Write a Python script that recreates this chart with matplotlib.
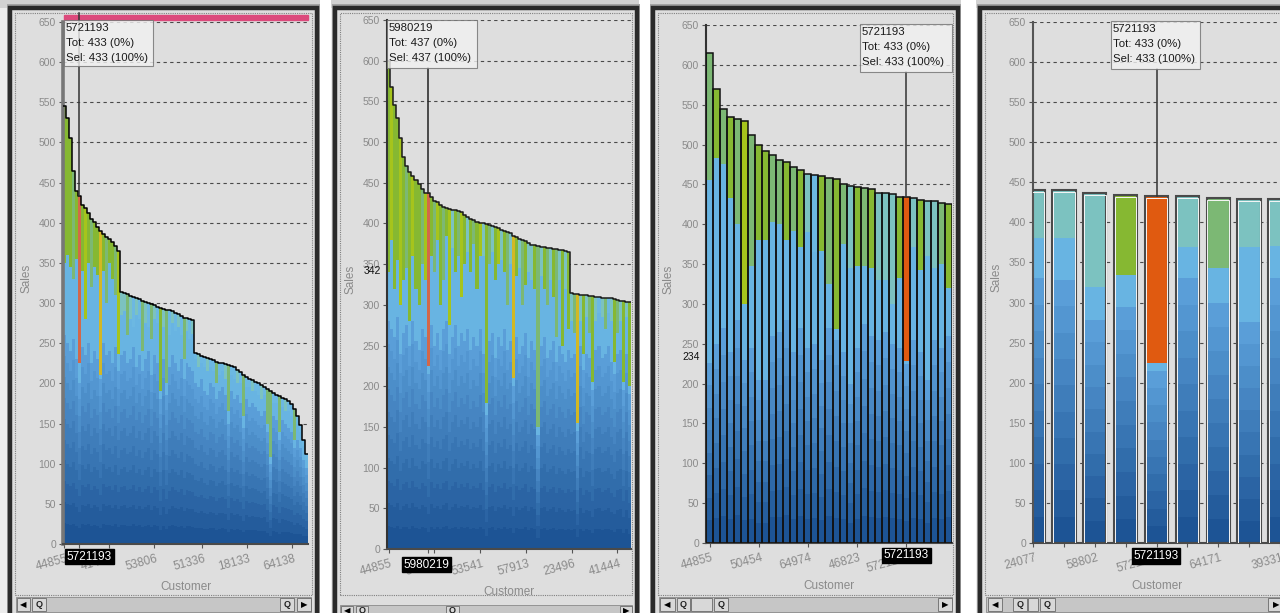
import numpy as np
import matplotlib.pyplot as plt
import matplotlib.transforms as mtrans
import matplotlib.colors as mcolors
from matplotlib.patches import Rectangle

plt.rcParams['font.family'] = ['Liberation Sans', 'DejaVu Sans']

# ---------------- data ----------------
# panel 1 : all customers, sorted by sales
p1_totals = [545, 530, 505, 465, 440, 433, 422, 418, 412, 405,
             401, 395, 390, 386, 382, 380, 376, 371, 365, 314,
             313, 311, 309, 307, 306, 305, 303, 301, 300, 299,
             297, 295, 294, 293, 292, 291, 290, 288, 286, 284,
             282, 281, 280, 279, 238, 236, 234, 233, 231, 230,
             229, 227, 226, 225, 224, 223, 222, 220, 217, 214,
             211, 208, 206, 204, 202, 200, 198, 195, 193, 191,
             188, 186, 184, 182, 180, 178, 174, 168, 160, 148,
             130, 112]
p1_tips = [350, 360, 345, 330, 355, 225, 340, 280, 350, 320,
           345, 335, 210, 340, 300, 350, 330, 310, 237,
           285, 290, 260, 280, 270, 285, 280, 240, 275, 270,
           255, 280, 275, 190, 270, 200, 260, 275, 265, 270,
           260, 230, 265, 255, 262,
           230, 220, 225, 220, 215, 220, 215, 200, 210, 215,
           205, 165, 210, 205, 200, 200, 160, 195, 195, 190,
           190, 185, 180, 185, 150, 108, 175, 175, 140, 170,
           165, 165, 160, 130, 150, 140, 122, 105]
p1_lights = [260, 250, 240, 255, 230, 200, 245, 235, 250, 225,
             240, 230, 205, 250, 235, 240, 225, 245, 215,
             235, 240, 225, 230, 245, 220, 235, 215, 230, 240,
             210, 235, 225, 180, 230, 185, 220, 235, 225, 215,
             230, 205, 225, 220, 215,
             200, 195, 205, 190, 185, 200, 195, 180, 190, 195,
             185, 150, 190, 180, 185, 175, 145, 180, 170, 175,
             170, 165, 160, 165, 140, 100, 160, 155, 130, 155,
             150, 145, 140, 120, 130, 120, 105, 95]
p1_codes = "gggmgrgygmggYgmggmy" + "ttmtbtbmtbmtbgtmbtbtbmtbt" + "btbbtbbmbbtmbbtbmbbtbbtbmmbbmbtbbmbbbb"
p1_selected = 5
p1_tick_idx = [0, 15, 30, 46, 61, 76]
p1_tick_labels = ['44855', '41419', '53806', '51336', '18133', '64138']

# panel 2 : another selection
p2_totals = [600, 568, 545, 530, 505, 482, 470, 463, 458, 453,
             448, 442, 438, 437, 432, 428, 426, 423, 420, 419,
             418, 417, 416, 415, 414, 411, 408, 406, 404, 402,
             401, 400, 399, 398, 397, 396, 394, 392, 391, 390,
             388, 385, 383, 381, 380, 378, 376, 374, 373, 372,
             371, 371, 370, 370, 369, 369, 368, 367, 366, 365,
             314, 313, 313, 312, 312, 312, 311, 311, 310, 310,
             309, 309, 308, 308, 307, 306, 305, 305, 304, 304]
p2_tips = [340, 380, 320, 355, 300, 330, 345, 280, 360, 320,
           300, 350, 330, 225, 360, 340, 380, 300, 330, 385,
           275, 370, 340, 360, 310, 350, 365, 340, 375, 320,
           360, 360, 180, 350, 365, 330, 350, 355, 340, 300,
           350, 210, 335, 345, 300, 325, 340, 330, 320, 150,
           335, 320, 300, 330, 310, 260, 330, 250, 320, 270,
           280, 265, 155, 280, 240, 285, 265, 205, 280, 290,
           285, 270, 290, 280, 230, 265, 280, 205, 285, 200]
p2_lights = [280, 270, 260, 285, 240, 265, 275, 250, 280, 255,
             245, 270, 260, 215, 275, 250, 265, 245, 270, 280,
             240, 260, 275, 250, 265, 255, 270, 245, 260, 250,
             270, 240, 165, 255, 265, 235, 260, 250, 270, 245,
             255, 200, 260, 240, 250, 265, 235, 255, 245, 140,
             250, 260, 235, 245, 255, 230, 250, 240, 230, 245,
             235, 240, 145, 250, 220, 240, 235, 195, 245, 250,
             235, 240, 250, 230, 215, 240, 245, 195, 240, 190]
p2_codes = "gyggygmgyggmyrgmygmg" + "ytgmygtgmgytgmtgytgm" + "tYgtmgttgmtgmtgmtgtg" + "tmYtgtmgtbtmbtgmtgtg"
p2_selected = 13
p2_tick_idx = [0, 15, 30, 45, 60, 75]
p2_tick_labels = ['44855', '58156', '53541', '57913', '23496', '41444']

# panel 3 : zoomed in
p3_totals = [615, 570, 545, 535, 532, 530, 512, 500, 492, 487,
             481, 478, 472, 468, 463, 462, 460, 458, 457, 450,
             448, 447, 446, 444, 439, 439, 438, 434, 434, 433,
             431, 429, 429, 427, 425]
p3_tips = [455, 483, 475, 433, 400, 300, 348, 380, 380, 403,
           400, 380, 392, 372, 390, 365, 366, 325, 268, 375,
           345, 347, 348, 345, 330, 330, 300, 333, 228, 372,
           343, 360, 345, 350, 320]
p3_lights = [226, 250, 270, 240, 280, 230, 245, 205, 205, 260,
             265, 280, 240, 270, 245, 250, 230, 270, 255, 240,
             200, 245, 275, 260, 255, 265, 250, 245, 225, 255,
             240, 205, 255, 245, 260]
p3_codes = "mgmgmymggmmgmgtbgmgmtgmgtttgotgttmg"
p3_selected = 28
p3_tick_idx = [0, 7, 14, 21, 28]
p3_tick_labels = ['44855', '50454', '64974', '46823', '5721193']

# panel 4 : zoomed in further
p4_totals = [440, 440, 437, 434, 433, 433, 430, 429, 429]
p4_tips = [380, 380, 320, 334, 225, 369, 343, 369, 370]
p4_lights = [330, 328, 278, 295, 215, 330, 300, 276, 330]
p4_codes = "tttgotmtt"
p4_selected = 4
p4_tick_idx = [0, 2, 4, 6, 8]
p4_tick_labels = ['24077', '58802', '5721193', '64171', '39331']

TIP = {'g': '#86b832', 'y': '#a6c41c', 'm': '#7cb874', 't': '#7cc2c0',
       'b': '#6cb8e2', 'r': '#d2684a', 'o': '#e05a10', 'Y': '#d2b824'}
LIGHT = '#68b4e2'
GRAY = '#8a8a8a'

W, H = 1280, 613
fig = plt.figure(figsize=(W / 100, H / 100), dpi=100, facecolor='#ececec')


def frect(x0, y0, x1, y1, **kw):
    r = Rectangle((x0 / W, 1 - y1 / H), (x1 - x0) / W, (y1 - y0) / H,
                  transform=fig.transFigure, **kw)
    fig.add_artist(r)
    return r


def ftext(x, y, s, **kw):
    return fig.text(x / W, 1 - y / H, s, **kw)


# window chrome
frect(0, 0, W, 8, fc='#d2d2d2', ec='none', zorder=-10)
for x0, x1 in [(320, 331), (639, 650), (961, 976)]:
    frect(x0, 0, x1, H, fc='white', ec='none', zorder=-9)
windows = [(10, 317), (335, 637), (653, 958), (980, 1300)]
for x0, x1 in windows:
    frect(x0 - 3, 4, x1 + 3, H + 20, fc='#a4a4a4', ec='none', zorder=-8)
    frect(x0, 8, x1, H + 20, fc='#dedede', ec='#2a2a2a', lw=3.2, zorder=-7)
    frect(x0 + 5, 13, x1 - 5, 595, fill=False, ec='#808080', lw=0.8,
          ls=(0, (1, 1)), zorder=-6)


def scrollbar(y0, y1, xa, xb, parts):
    frect(xa, y0, xb, y1, fc='#c6c6c6', ec='#8a8a8a', lw=0.6, zorder=6)
    for a, b, kind in parts:
        frect(a, y0 + 1, b, y1 - 1, fc='#d8d8d8', ec='#6a6a6a', lw=0.6, zorder=7)
        cx, cy = (a + b) / 2, (y0 + y1) / 2
        if kind == 'l':
            ftext(cx, cy, '\u25C0', ha='center', va='center', fontsize=6,
                  color='black', family='DejaVu Sans', zorder=8)
        elif kind == 'r':
            ftext(cx, cy, '\u25B6', ha='center', va='center', fontsize=6,
                  color='black', family='DejaVu Sans', zorder=8)
        elif kind == 'z':
            ftext(cx, cy, 'Q', ha='center', va='center', fontsize=6.5,
                  weight='bold', color='#222', zorder=8)


scrollbar(597, 612, 16, 311, [(17, 30, 'l'), (32, 46, 'z'), (280, 294, 'z'), (297, 311, 'r')])
scrollbar(605, 616, 340, 632, [(341, 353, 'l'), (356, 368, 'z'), (446, 459, 'z'), (620, 632, 'r')])
scrollbar(597, 612, 659, 952, [(660, 675, 'l'), (677, 690, 'z'), (691, 712, 't'), (714, 728, 'z'), (938, 952, 'r')])
scrollbar(597, 612, 986, 1285, [(988, 1002, 'l'), (1013, 1027, 'z'), (1028, 1038, 't'), (1040, 1055, 'z'), (1268, 1285, 'r')])


def band_colors(nb):
    c0 = np.array(mcolors.to_rgb('#1d5495'))
    c1 = np.array(mcolors.to_rgb('#5a9ed8'))
    return [tuple(c0 + (c1 - c0) * k / max(nb - 1, 1)) for k in range(nb)]


def draw_stack(ax, totals, tips, lights, codes, nb, width, aa=True):
    x = np.arange(len(totals))
    tot = np.array(totals, float)
    tip = np.minimum(np.array(tips, float), tot)
    lig = np.minimum(np.array(lights, float), tip)
    for k, c in enumerate(band_colors(nb)):
        ax.bar(x, lig / nb, bottom=lig * k / nb, width=width, color=c,
               linewidth=0, antialiased=aa, zorder=2)
    ax.bar(x, tip - lig, bottom=lig, width=width, color=LIGHT, linewidth=0,
           antialiased=aa, zorder=2)
    ax.bar(x, tot - tip, bottom=tip, width=width, color=[TIP[c] for c in codes],
           linewidth=0, antialiased=aa, zorder=2)
    return x, tot


def style_axes(ax, tick_idx, tick_labels, extra_ticks, spine_col='#4a4a4a', spine_lw=1.5):
    ax.set_facecolor('#dedede')
    ax.set_ylim(0, 650)
    ax.set_yticks(range(0, 651, 50))
    ax.tick_params(axis='y', length=3, pad=2, labelsize=7.5, labelcolor=GRAY,
                   color='#555')
    ax.set_xticks(sorted(set(tick_idx) | set(extra_ticks)))
    ax.set_xticklabels([])
    ax.tick_params(axis='x', length=3, color='#555')
    ax.set_axisbelow(True)
    ax.yaxis.grid(True, linestyle=(0, (3, 3)), color='#4a4a4a', linewidth=0.8)
    for s in ['top', 'right']:
        ax.spines[s].set_visible(False)
    ax.spines['left'].set_color(spine_col)
    ax.spines['left'].set_linewidth(spine_lw)
    ax.spines['bottom'].set_color('#4a4a4a')
    ax.spines['bottom'].set_linewidth(1.5)
    tr = mtrans.offset_copy(mtrans.blended_transform_factory(ax.transData, ax.transAxes),
                            fig=fig, x=2, y=-9, units='dots')
    for i, lab in zip(tick_idx, tick_labels):
        ax.text(i, 0, lab, transform=tr, rotation=15, rotation_mode='anchor',
                ha='right', va='top', fontsize=8.5, color=GRAY, clip_on=False)


def axis_titles(ax, box):
    x0, y0, x1, y1 = box
    ftext(x0 - 37, (y0 + y1) / 2 - 5, 'Sales', rotation=90, ha='center',
          va='center', fontsize=8.5, color=GRAY)
    ftext((x0 + x1) / 2, y1 + 43, 'Customer', ha='center', va='center',
          fontsize=8.5, color=GRAY)


def tooltip(box, lines):
    x0, y0, x1, y1 = box
    frect(x0, y0, x1, y1, fc='#f2f2f2', ec='#707070', lw=0.8, alpha=0.8, zorder=5)
    for k, s in enumerate(lines):
        ftext(x0 + 2, y0 + 8 + 15 * k, s, ha='left', va='center', fontsize=8.2,
              color='#1a1a1a', zorder=6)


def sel_label(cx, cy, s):
    ftext(cx, cy, s, ha='center', va='center', fontsize=8.5, color='white',
          zorder=6, bbox=dict(boxstyle='square,pad=0.15', fc='black', ec='black'))


def extra_ylabel(ax, v, s):
    tr = mtrans.offset_copy(mtrans.blended_transform_factory(ax.transAxes, ax.transData),
                            fig=fig, x=-6, y=0, units='dots')
    ax.text(0, v, s, transform=tr, ha='right', va='center', fontsize=7.5,
            color='#111', clip_on=False, zorder=6)


def make_ax(box):
    x0, y0, x1, y1 = box
    return fig.add_axes([x0 / W, 1 - y1 / H, (x1 - x0) / W, (y1 - y0) / H])


# ---------- panel 1 ----------
b1 = (63, 22, 308, 544)
ax1 = make_ax(b1)
x, tot = draw_stack(ax1, p1_totals, p1_tips, p1_lights, p1_codes, 10, 1.0, aa=False)
ax1.step(np.arange(len(tot) + 1) - 0.5, np.append(tot, tot[-1]), where='post',
         color='black', lw=1.1, zorder=4)
ax1.set_xlim(-0.5, len(tot) - 0.5)
style_axes(ax1, p1_tick_idx, p1_tick_labels, [p1_selected], spine_col='#777', spine_lw=2.6)
ax1.add_patch(Rectangle((0, 653), len(tot) - 0.5, 6, color='#dc4a7c', clip_on=False, zorder=5))
ax1.plot([p1_selected, p1_selected], [tot[p1_selected], 661], color='#333', lw=1.1,
         clip_on=False, zorder=5)
axis_titles(ax1, b1)
tooltip((64, 20, 153, 66), ['5721193', 'Tot: 433 (0%)', 'Sel: 433 (100%)'])
sel_label(89.5, 556.5, '5721193')

# ---------- panel 2 ----------
b2 = (387, 20, 631, 549)
ax2 = make_ax(b2)
x, tot = draw_stack(ax2, p2_totals, p2_tips, p2_lights, p2_codes, 10, 1.0, aa=False)
ax2.step(np.arange(len(tot) + 1) - 0.5, np.append(tot, tot[-1]), where='post',
         color='#1a1a1a', lw=1.1, zorder=4)
ax2.set_xlim(-0.5, len(tot) - 0.5)
style_axes(ax2, p2_tick_idx, p2_tick_labels, [p2_selected], spine_col='#333', spine_lw=1.5)
ax2.plot([p2_selected, p2_selected], [tot[p2_selected], 591], color='#222', lw=1.1,
         clip_on=False, zorder=5)
extra_ylabel(ax2, 342, '342')
axis_titles(ax2, b2)
tooltip((387, 20, 477, 68), ['5980219', 'Tot: 437 (0%)', 'Sel: 437 (100%)'])
sel_label(426.5, 564.5, '5980219')

# ---------- panel 3 ----------
b3 = (706, 25, 952, 543)
ax3 = make_ax(b3)
x, tot = draw_stack(ax3, p3_totals, p3_tips, p3_lights, p3_codes, 8, 1.0)
ax3.bar(x, tot, width=1.0, fill=False, edgecolor='#111', linewidth=1.1, zorder=3)
ax3.set_xlim(-0.5, len(tot) - 0.5)
style_axes(ax3, p3_tick_idx, p3_tick_labels, [], spine_col='#333', spine_lw=1.5)
ax3.plot([p3_selected, p3_selected], [tot[p3_selected], 591], color='#333', lw=1.1,
         clip_on=False, zorder=5)
extra_ylabel(ax3, 234, '234')
axis_titles(ax3, b3)
tooltip((860, 24, 952, 72), ['5721193', 'Tot: 433 (0%)', 'Sel: 433 (100%)'])
sel_label(906.5, 555.5, '5721193')

# ---------- panel 4 ----------
b4 = (1033, 22, 1280, 543)
ax4 = make_ax(b4)
x, tot = draw_stack(ax4, p4_totals, p4_tips, p4_lights, p4_codes, 10, 0.76)
ax4.bar(x, tot, width=0.76, fill=False, edgecolor='#4a4a4a', linewidth=1.5, zorder=3)
ax4.bar(x, tot - 2.5, width=0.70, fill=False, edgecolor='#f6f6f6', linewidth=0.7, zorder=3)
ax4.set_xlim(0.227, 7.71)
style_axes(ax4, p4_tick_idx, p4_tick_labels, list(range(len(tot))), spine_col='#555', spine_lw=1.5)
ax4.plot([p4_selected, p4_selected], [tot[p4_selected], 591], color='#333', lw=1.1,
         clip_on=False, zorder=5)
axis_titles(ax4, b4)
tooltip((1111, 21, 1200, 69), ['5721193', 'Tot: 433 (0%)', 'Sel: 433 (100%)'])
sel_label(1156, 556, '5721193')

fig.savefig('out.png', dpi=100, facecolor=fig.get_facecolor())
